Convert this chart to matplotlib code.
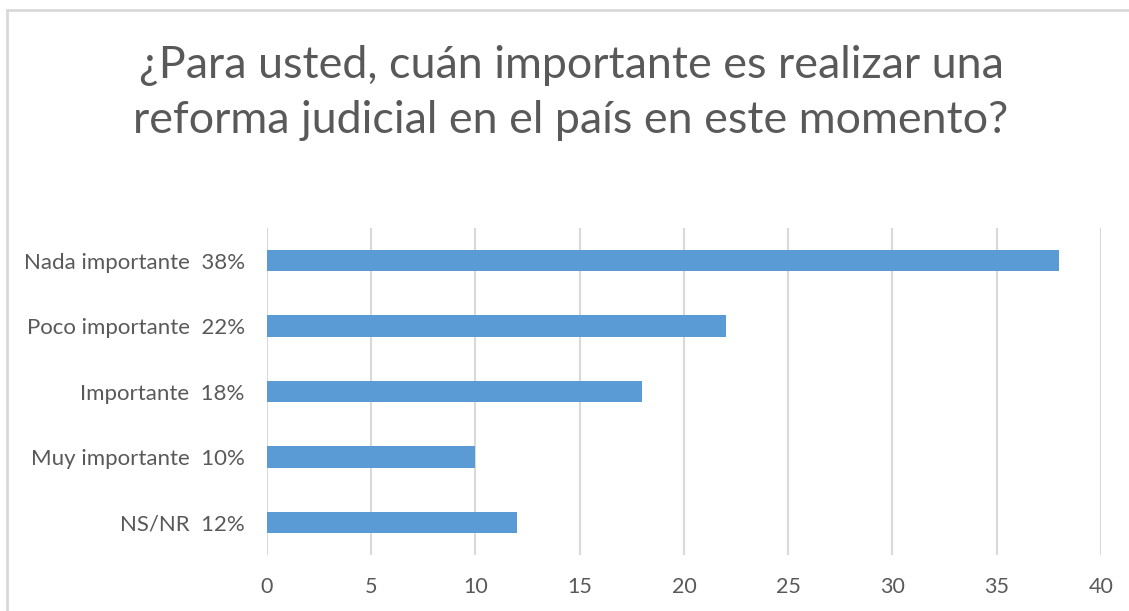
import matplotlib.pyplot as plt
from matplotlib.lines import Line2D

categories = ["Nada importante  38%", "Poco importante  22%", "Importante  18%",
              "Muy importante  10%", "NS/NR  12%"]
values = [38, 22, 18, 10, 12]
xticks = [0, 5, 10, 15, 20, 25, 30, 35, 40]

plt.rcParams['font.family'] = ['Lato', 'DejaVu Sans']

W, H = 1129, 611
fig = plt.figure(figsize=(W / 100, H / 100), dpi=100)
ax = fig.add_axes([267 / W, 1 - 555 / H, (1101 - 267) / W, (555 - 228) / H])

y = list(range(len(categories)))
ax.barh(y, values, height=0.33, color='#5B9BD5', zorder=3)
ax.set_ylim(len(categories) - 0.5, -0.5)
ax.set_xlim(0, 40)
ax.set_yticks(y, labels=categories)
ax.set_xticks(xticks)
ax.grid(axis='x', color='#D9D9D9', linewidth=1.5, zorder=0)
ax.tick_params(axis='y', length=0, pad=16, labelsize=16, labelcolor='#595959')
ax.tick_params(axis='x', length=0, pad=16, labelsize=15.5, labelcolor='#595959')
for s in ax.spines.values():
    s.set_visible(False)

fig.text(571 / W, 1 - 93 / H,
         "¿Para usted, cuán importante es realizar una\nreforma judicial en el país en este momento?",
         ha='center', va='center', fontsize=32.3, color='#595959', linespacing=1.42)

# chart frame (top and left edges visible)
fig.add_artist(Line2D([7 / W, 1], [1 - 10 / H, 1 - 10 / H], transform=fig.transFigure,
                      color='#D9D9D9', linewidth=2))
fig.add_artist(Line2D([7 / W, 7 / W], [0, 1 - 10 / H], transform=fig.transFigure,
                      color='#D9D9D9', linewidth=2))

fig.savefig('out.png', dpi=100)
